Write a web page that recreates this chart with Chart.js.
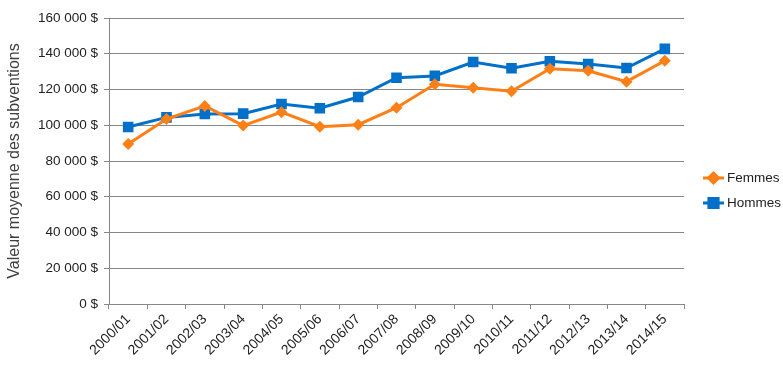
<!DOCTYPE html>
<html lang="fr">
<head>
<meta charset="utf-8" />
<title>Valeur moyenne des subventions</title>
<script src="https://cdn.jsdelivr.net/npm/chart.js@4/dist/chart.umd.min.js"></script>
<style>
  html, body { margin: 0; padding: 0; background: #fff; }
  #wrap { width: 783px; height: 384px; }
</style>
</head>
<body>
<div id="wrap"><canvas id="chart" width="783" height="384"></canvas></div>
<script>
// data
const years = ["2000/01", "2001/02", "2002/03", "2003/04", "2004/05", "2005/06", "2006/07",
  "2007/08", "2008/09", "2009/10", "2010/11", "2011/12", "2012/13", "2013/14", "2014/15"];
const femmes = [89500, 103500, 110800, 99800, 107300, 99200, 100300,
  109800, 122900, 121000, 119000, 131600, 130500, 124400, 136100];
const hommes = [99000, 104400, 106300, 106500, 111900, 109500, 115800,
  126600, 127600, 135400, 131900, 135800, 134300, 132000, 142700];
const yTicks = [0, 20000, 40000, 60000, 80000, 100000, 120000, 140000, 160000];

const ORANGE = "#ff7f17";
const BLUE = "#0070c8";
const GRID = "#878787";
const FONT = "'Liberation Sans', Arial, sans-serif";

function money(v) {
  return String(v).replace(/\B(?=(\d{3})+(?!\d))/g, " ") + " $";
}

// excel-style legend: short line with marker, on the right
const sideLegend = {
  id: "sideLegend",
  afterDraw(chart) {
    const ctx = chart.ctx;
    const items = chart.data.datasets;
    ctx.save();
    items.forEach((ds, i) => {
      const y = 178 + i * 25;
      const x0 = 703, x1 = 724;
      ctx.strokeStyle = ds.borderColor;
      ctx.lineWidth = 3;
      ctx.beginPath();
      ctx.moveTo(x0, y);
      ctx.lineTo(x1, y);
      ctx.stroke();
      Chart.helpers.drawPoint(ctx, {
        pointStyle: ds.pointStyle,
        radius: ds.pointRadius - 1,
        borderWidth: 1
      }, (x0 + x1) / 2, y);
      ctx.fillStyle = ds.borderColor;
      ctx.fill();
      ctx.fillStyle = "#222";
      ctx.font = "13.5px " + FONT;
      ctx.textBaseline = "middle";
      ctx.fillText(ds.label, x1 + 3, y);
    });
    ctx.restore();
  }
};

new Chart(document.getElementById("chart"), {
  type: "line",
  data: {
    labels: years,
    datasets: [
      {
        label: "Femmes",
        data: femmes,
        borderColor: ORANGE,
        backgroundColor: ORANGE,
        borderWidth: 3,
        pointStyle: "rectRot",
        pointRadius: 6,
        pointBorderWidth: 0,
        tension: 0
      },
      {
        label: "Hommes",
        data: hommes,
        borderColor: BLUE,
        backgroundColor: BLUE,
        borderWidth: 3,
        pointStyle: "rect",
        pointRadius: 7.5,
        pointBorderWidth: 0,
        tension: 0
      }
    ]
  },
  options: {
    responsive: false,
    animation: false,
    layout: { padding: { top: 18, right: 99, left: 5, bottom: 0 } },
    plugins: {
      legend: { display: false },
      tooltip: { enabled: false }
    },
    scales: {
      x: {
        offset: true,
        afterFit: (s) => { s.height = 80; },
        border: { color: GRID, width: 1 },
        grid: {
          offset: true,
          drawOnChartArea: false,
          drawTicks: true,
          tickLength: 5,
          color: GRID
        },
        ticks: {
          color: "#222",
          font: { family: FONT, size: 14 },
          minRotation: 45,
          maxRotation: 45,
          autoSkip: false,
          padding: 2
        }
      },
      y: {
        min: 0,
        max: 160000,
        afterFit: (s) => { s.width = 104; },
        afterBuildTicks: (s) => { s.ticks = yTicks.map((v) => ({ value: v })); },
        border: { color: GRID, width: 1 },
        grid: { color: GRID, lineWidth: 1, tickLength: 5 },
        ticks: {
          color: "#222",
          font: { family: FONT, size: 13.5 },
          padding: 6,
          callback: (v) => money(v)
        },
        title: {
          display: true,
          text: "Valeur moyenne des subventions",
          color: "#404040",
          font: { family: FONT, size: 16 },
          padding: { top: 0, bottom: 0 }
        }
      }
    }
  },
  plugins: [sideLegend]
});
</script>
</body>
</html>
